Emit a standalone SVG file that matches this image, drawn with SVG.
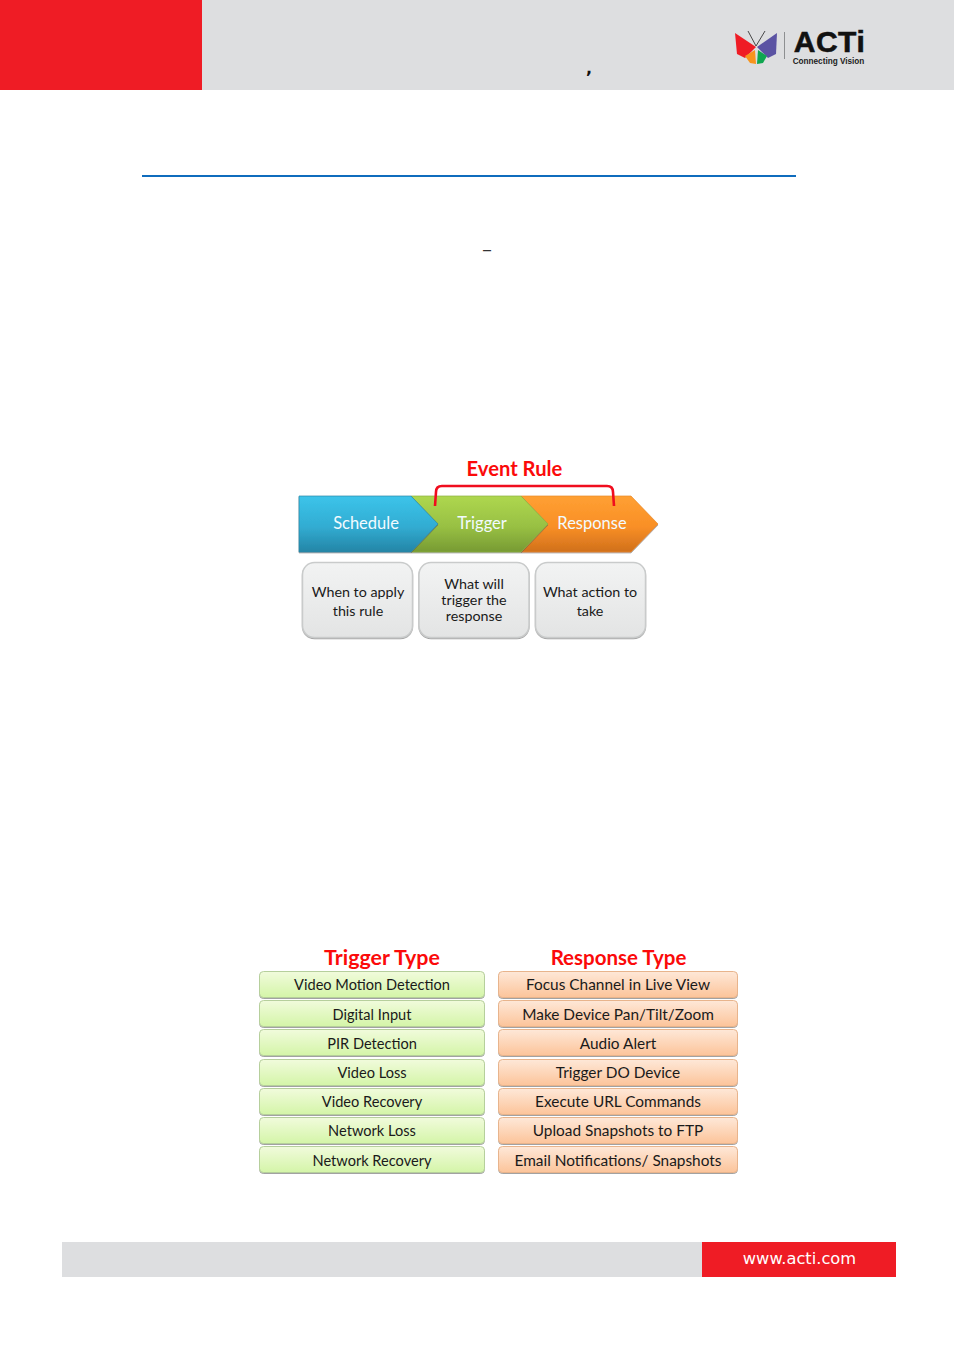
<svg xmlns="http://www.w3.org/2000/svg" width="954" height="1350" viewBox="0 0 954 1350">
<defs>
<linearGradient id="gb" x1="0" y1="0" x2="0" y2="1"><stop offset="0" stop-color="#3cc4ea"/><stop offset="0.55" stop-color="#31acd2"/><stop offset="1" stop-color="#2585a6"/></linearGradient>
<linearGradient id="gg" x1="0" y1="0" x2="0" y2="1"><stop offset="0" stop-color="#aed74f"/><stop offset="0.55" stop-color="#98c043"/><stop offset="1" stop-color="#779a33"/></linearGradient>
<linearGradient id="go" x1="0" y1="0" x2="0" y2="1"><stop offset="0" stop-color="#ffa033"/><stop offset="0.55" stop-color="#f98f26"/><stop offset="1" stop-color="#d0701c"/></linearGradient>
<linearGradient id="gc" x1="0" y1="0" x2="0" y2="1"><stop offset="0" stop-color="#f2f3f3"/><stop offset="1" stop-color="#e3e4e4"/></linearGradient>
<linearGradient id="gl" x1="0" y1="0" x2="0" y2="1"><stop offset="0" stop-color="#f1fbdc"/><stop offset="1" stop-color="#d4f5a8"/></linearGradient>
<linearGradient id="gr" x1="0" y1="0" x2="0" y2="1"><stop offset="0" stop-color="#fee8d8"/><stop offset="1" stop-color="#fcc49a"/></linearGradient>
<filter id="sh" x="-5%" y="-10%" width="110%" height="125%"><feDropShadow dx="0" dy="1" stdDeviation="0.7" flood-color="#555" flood-opacity="0.55"/></filter>
</defs>
<style>
text{font-family:"Lato","Liberation Sans",sans-serif;text-anchor:middle}
.chev{font-size:16.5px;fill:#f2fbff}
.cp{stroke-width:0.7;filter:url(#sh)}
.card{fill:url(#gc);stroke:#c9cbcb;stroke-width:1.5;filter:url(#sh)}
.ct{font-size:14.3px;fill:#1a1a1a}
.head{font-weight:700;fill:#fb0a0a}
.rowl{fill:url(#gl);stroke:#b6cf9c;stroke-width:1;filter:url(#sh)}
.rowr{fill:url(#gr);stroke:#e8b48c;stroke-width:1;filter:url(#sh)}
.rt{font-size:14.6px;fill:#1a1a1a}
.rr{font-size:15.4px;fill:#1a1a1a}
</style>
<g id="header">
<rect x="0" y="0" width="954" height="90" fill="#dddee0"/>
<rect x="0" y="0" width="202" height="90" fill="#ef1c25"/>
<text x="589" y="74" style="font-family:'DejaVu Sans',sans-serif;font-size:16px;font-weight:700" fill="#111">,</text>
</g>
<g id="logo">
<polygon points="735,33 756,47 745,58 737,54" fill="#ef1c25"/>
<polygon points="777,33 757,47 768,58 776,54" fill="#5b53a3"/>
<polygon points="745,56 755,50 756,64 750,63" fill="#f7941d"/>
<polygon points="767,56 758,50 757,64 763,63" fill="#0fa650"/>
<path d="M748,31 L756,46 L765,31" fill="none" stroke="#222" stroke-width="0.8"/>
<rect x="784" y="32" width="1" height="27" fill="#8d8f91"/>
<text x="829.500" y="52" style="font-family:'Liberation Sans',sans-serif;font-size:30px;font-weight:700;letter-spacing:0.5px" fill="#111" stroke="#111" stroke-width="0.6">ACTi</text>
<text x="828.500" y="64" style="font-family:'Liberation Sans',sans-serif;font-size:8.2px;font-weight:700" fill="#222">Connecting Vision</text>
</g>
<rect id="rule" x="142" y="175" width="654" height="2" fill="#0f6cbd"/>
<text id="dash" x="487" y="256" style="font-family:'DejaVu Sans',sans-serif;font-size:20px" fill="#333">–</text>
<g id="event-rule-title"><text class="head" x="514.500" y="476" style="font-size:20.2px">Event Rule</text></g>
<g id="response">
<polygon class="cp" points="521,496 631,496 658,524 631,552 521,552 548,524" fill="url(#go)" stroke="#e88a2a"/>
<text class="chev" x="592" y="529">Response</text>
</g>
<g id="trigger">
<polygon class="cp" points="411,496 521,496 548,524 521,552 411,552 438,524" fill="url(#gg)" stroke="#8caf3e"/>
<text class="chev" x="482" y="529">Trigger</text>
</g>
<g id="schedule">
<polygon class="cp" points="299,496 411,496 438,524 411,552 299,552" fill="url(#gb)" stroke="#2a88a8"/>
<text class="chev" x="366" y="529">Schedule</text>
</g>
<g id="connectors">
<path d="M435,506 L436,492 Q436,486 442,486 L607,486 Q613,486 613,492 L614,506" fill="none" stroke="#f00d1e" stroke-width="2.6"/>
</g>
<g id="card-when"><rect class="card" x="302.500" y="562.500" width="110" height="75" rx="12"/><text class="ct" x="358" y="597">When to apply</text><text class="ct" x="358" y="616">this rule</text></g>
<g id="card-what"><rect class="card" x="419" y="562.500" width="110" height="75" rx="12"/><text class="ct" x="474" y="589">What will</text><text class="ct" x="474" y="605">trigger the</text><text class="ct" x="474" y="621">response</text></g>
<g id="card-action"><rect class="card" x="535.500" y="562.500" width="110" height="75" rx="12"/><text class="ct" x="590" y="597">What action to</text><text class="ct" x="590" y="616">take</text></g>
<g id="trigger-type-title"><text class="head" x="382" y="965" style="font-size:21.400px">Trigger Type</text></g>
<g id="response-type-title"><text class="head" x="618.500" y="965" style="font-size:20.500px">Response Type</text></g>
<g id="t1"><rect class="rowl" x="259.500" y="971.500" width="225" height="26" rx="4"/><text class="rt" x="372" y="990">Video Motion Detection</text></g>
<g id="t2"><rect class="rowl" x="259.500" y="1000.500" width="225" height="26" rx="4"/><text class="rt" x="372" y="1019.500">Digital Input</text></g>
<g id="t3"><rect class="rowl" x="259.500" y="1029.500" width="225" height="26" rx="4"/><text class="rt" x="372" y="1048.500">PIR Detection</text></g>
<g id="t4"><rect class="rowl" x="259.500" y="1059.500" width="225" height="26" rx="4"/><text class="rt" x="372" y="1078">Video Loss</text></g>
<g id="t5"><rect class="rowl" x="259.500" y="1088.500" width="225" height="26" rx="4"/><text class="rt" x="372" y="1107">Video Recovery</text></g>
<g id="t6"><rect class="rowl" x="259.500" y="1117.500" width="225" height="26" rx="4"/><text class="rt" x="372" y="1136">Network Loss</text></g>
<g id="t7"><rect class="rowl" x="259.500" y="1146.500" width="225" height="26" rx="4"/><text class="rt" x="372" y="1165.500">Network Recovery</text></g>
<g id="r1"><rect class="rowr" x="498.500" y="971.500" width="239" height="26" rx="4"/><text class="rr" x="618" y="990">Focus Channel in Live View</text></g>
<g id="r2"><rect class="rowr" x="498.500" y="1000.500" width="239" height="26" rx="4"/><text class="rr" x="618" y="1019.500">Make Device Pan/Tilt/Zoom</text></g>
<g id="r3"><rect class="rowr" x="498.500" y="1029.500" width="239" height="26" rx="4"/><text class="rr" x="618" y="1048.500">Audio Alert</text></g>
<g id="r4"><rect class="rowr" x="498.500" y="1059.500" width="239" height="26" rx="4"/><text class="rr" x="618" y="1078">Trigger DO Device</text></g>
<g id="r5"><rect class="rowr" x="498.500" y="1088.500" width="239" height="26" rx="4"/><text class="rr" x="618" y="1107">Execute URL Commands</text></g>
<g id="r6"><rect class="rowr" x="498.500" y="1117.500" width="239" height="26" rx="4"/><text class="rr" x="618" y="1136">Upload Snapshots to FTP</text></g>
<g id="r7"><rect class="rowr" x="498.500" y="1146.500" width="239" height="26" rx="4"/><text class="rr" x="618" y="1165.500">Email Notifications/ Snapshots</text></g>
<g id="footer">
<rect x="62" y="1242" width="640" height="35" fill="#dddee0"/>
<rect x="702" y="1242" width="194" height="35" fill="#ef1c25"/>
<text x="799.500" y="1264" style="font-family:'DejaVu Sans',sans-serif;font-size:16.300px" fill="#fff">www.acti.com</text>
</g>
</svg>
